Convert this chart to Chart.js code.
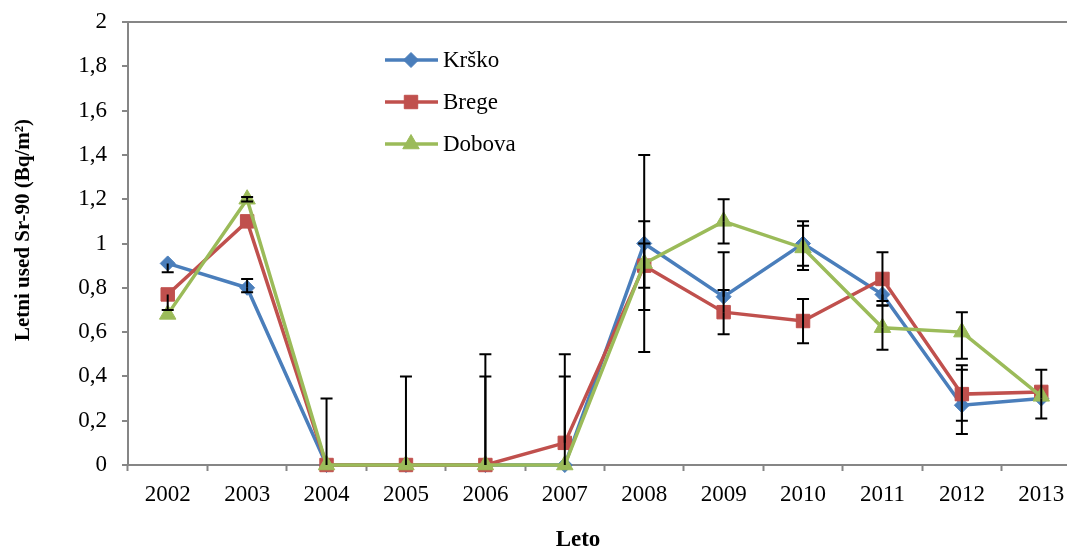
<!DOCTYPE html>
<html>
<head>
<meta charset="utf-8">
<script src="https://cdn.jsdelivr.net/npm/chart.js@4.4.1/dist/chart.umd.min.js"></script>
<style>
  html, body { margin: 0; padding: 0; background: #fff; overflow: hidden; }
  #wrap { position: relative; width: 1100px; height: 549px; }
</style>
</head>
<body>
<div id="wrap"><canvas id="myChart"></canvas></div>
<script>
// data
var years = ['2002', '2003', '2004', '2005', '2006', '2007', '2008', '2009', '2010', '2011', '2012', '2013'];
var seriesNames = ['Krško', 'Brege', 'Dobova'];

var krsko  = [0.91, 0.80, 0, 0, 0, 0,    1.00, 0.76, 1.00, 0.77, 0.27, 0.30];
var brege  = [0.77, 1.10, 0, 0, 0, 0.10, 0.90, 0.69, 0.65, 0.84, 0.32, 0.33];
var dobova = [0.68, 1.20, 0, 0, 0, 0,    0.91, 1.10, 0.98, 0.62, 0.60, 0.31];

// error bar ends (null = no whisker on that side)
var krskoLow   = [0.87, 0.78, null, null, null, null, 0.51, null, 0.90, 0.74, 0.14, 0.21];
var krskoHigh  = [null, 0.84, 0.30, 0.40, 0.50, 0.40, 1.40, 0.96, 1.10, null, 0.43, 0.43];
var bregeLow   = [0.70, null, null, null, null, null, 0.70, 0.59, 0.55, 0.72, 0.20, null];
var bregeHigh  = [null, null, null, null, 0.40, 0.50, 1.10, 0.79, 0.75, 0.96, 0.45, null];
var dobovaLow  = [null, 1.19, null, null, null, null, 0.80, 1.00, 0.88, 0.52, 0.48, null];
var dobovaHigh = [null, 1.21, null, null, null, null, 1.00, 1.20, 1.08, 0.72, 0.69, null];

var yTicks = [0, 0.2, 0.4, 0.6, 0.8, 1, 1.2, 1.4, 1.6, 1.8, 2];

var xTitle = 'Leto';
var yTitle = 'Letni used Sr-90 (Bq/m²)';

var serif = '"Liberation Serif", "Times New Roman", serif';

function fmt(v) {
  return String(Number(v.toFixed(1))).replace('.', ',');
}

function makeSet(label, data, color, style, radius, order, lo, hi) {
  return {
    label: label,
    data: data,
    borderColor: color,
    backgroundColor: color,
    borderWidth: 3.5,
    pointStyle: style,
    pointRadius: radius,
    pointBorderWidth: 1,
    pointBackgroundColor: color,
    pointBorderColor: color,
    tension: 0,
    clip: false,
    order: order,
    errLow: lo,
    errHigh: hi
  };
}

var errorBars = {
  id: 'errorBars',
  afterDatasetsDraw: function(chart) {
    var ctx = chart.ctx;
    var x = chart.scales.x, y = chart.scales.y;
    ctx.save();
    ctx.strokeStyle = '#000';
    ctx.lineWidth = 2;
    chart.data.datasets.forEach(function(ds) {
      ds.data.forEach(function(v, i) {
        var px = x.getPixelForValue(i);
        var py = y.getPixelForValue(v);
        [ds.errLow[i], ds.errHigh[i]].forEach(function(e) {
          if (e === null) return;
          var pe = y.getPixelForValue(e);
          ctx.beginPath();
          ctx.moveTo(px, py);
          ctx.lineTo(px, pe);
          ctx.moveTo(px - 6, pe);
          ctx.lineTo(px + 6, pe);
          ctx.stroke();
        });
      });
    });
    ctx.restore();
  }
};

// legend with line + marker, and the two axis titles
var extras = {
  id: 'extras',
  afterDraw: function(chart) {
    var ctx = chart.ctx;
    ctx.save();
    chart.data.datasets.forEach(function(ds, i) {
      var yy = 60 + i * 42;
      ctx.strokeStyle = ds.borderColor;
      ctx.lineWidth = 3.5;
      ctx.beginPath();
      ctx.moveTo(385, yy);
      ctx.lineTo(438, yy);
      ctx.stroke();
      ctx.fillStyle = ds.backgroundColor;
      ctx.strokeStyle = ds.borderColor;
      ctx.lineWidth = 1;
      Chart.helpers.drawPoint(ctx, {pointStyle: ds.pointStyle, radius: ds.pointRadius, borderWidth: 1}, 411, yy);
      ctx.fillStyle = '#000';
      ctx.font = '23px ' + serif;
      ctx.textBaseline = 'middle';
      ctx.textAlign = 'left';
      ctx.fillText(ds.label, 443, yy + 1);
    });

    ctx.fillStyle = '#000';
    ctx.textAlign = 'center';
    ctx.textBaseline = 'middle';
    ctx.font = 'bold 23px ' + serif;
    ctx.fillText(xTitle, 578, 540);

    ctx.translate(24, 230);
    ctx.rotate(-Math.PI / 2);
    ctx.font = 'bold 21px ' + serif;
    ctx.fillText(yTitle, 0, 0);
    ctx.restore();
  }
};

var ctx = document.getElementById('myChart');
var myChart = new Chart(ctx, {
  type: 'line',
  data: {
    labels: years,
    datasets: [
      makeSet(seriesNames[0], krsko, '#4A7EBB', 'rectRot', 7.5, 2, krskoLow, krskoHigh),
      makeSet(seriesNames[1], brege, '#C0504D', 'rect', 9.5, 1, bregeLow, bregeHigh),
      makeSet(seriesNames[2], dobova, '#9BBB59', 'triangle', 9.5, 0, dobovaLow, dobovaHigh)
    ]
  },
  options: {
    responsive: true,
    maintainAspectRatio: false,
    devicePixelRatio: 1,
    animation: false,
    layout: { padding: { top: 22, right: 19, left: 0, bottom: 0 } },
    plugins: {
      legend: { display: false },
      tooltip: { enabled: false }
    },
    scales: {
      x: {
        offset: true,
        grid: {
          offset: true,
          drawOnChartArea: false,
          tickLength: 6,
          tickColor: '#868686',
          tickWidth: 2
        },
        border: { color: '#868686', width: 2 },
        ticks: {
          color: '#000',
          font: { family: serif, size: 23 },
          padding: 10,
          maxRotation: 0
        },
        afterFit: function(scale) {
          scale.height = 84;
          scale.paddingLeft = 0;
          scale.paddingRight = 0;
        }
      },
      y: {
        min: 0,
        max: 2,
        afterBuildTicks: function(scale) {
          scale.ticks = yTicks.map(function(v) { return {value: v}; });
        },
        grid: {
          color: function(c) { return c.tick && c.tick.value === 2 ? '#868686' : 'rgba(0,0,0,0)'; },
          lineWidth: 2,
          tickLength: 6,
          tickColor: '#868686',
          tickWidth: 2
        },
        border: { color: '#868686', width: 2 },
        ticks: {
          color: '#000',
          font: { family: serif, size: 23 },
          padding: 15,
          callback: function(v) { return fmt(v); }
        },
        afterFit: function(scale) {
          scale.width = 128;
          scale.paddingTop = 0;
          scale.paddingBottom = 0;
        }
      }
    }
  },
  plugins: [errorBars, extras]
});
</script>
</body>
</html>
